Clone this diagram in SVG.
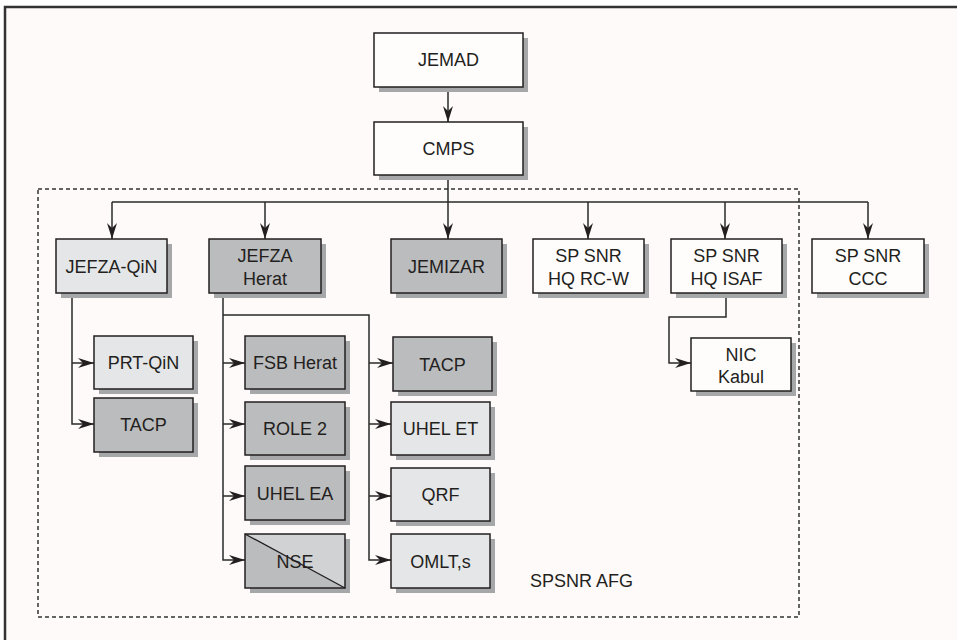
<svg xmlns="http://www.w3.org/2000/svg" width="957" height="640" viewBox="0 0 957 640">
<style>
text{font-family:"Liberation Sans",Arial,sans-serif;font-size:18px;fill:#231f20;text-anchor:middle}
.sh{fill:#a6a7a9}
.b{stroke:#231f20;stroke-width:1.5}
.w{fill:#fffdfc}
.l{fill:#e5e6e8}
.d{fill:#bbbcbe}
.c{fill:none;stroke:#2a2a2a;stroke-width:1.5}
.a{marker-end:url(#ah)}
</style>
<defs>
<marker id="ah" markerUnits="userSpaceOnUse" markerWidth="17" markerHeight="12" refX="16" refY="6" orient="auto">
<path d="M0,1 L16,6 L0,11 L5,6 Z" fill="#231f20"/>
</marker>
</defs>
<rect x="0" y="0" width="957" height="640" fill="#ffffff"/>
<rect x="5" y="7" width="960" height="640" fill="#fdfaf9" stroke="#333" stroke-width="2.5"/>
<rect id="spsnr-afg" x="38" y="189" width="761" height="428" fill="none" stroke="#333" stroke-width="1.5" stroke-dasharray="4,3"/>
<text x="530" y="587" style="text-anchor:start">SPSNR AFG</text>

<g id="connectors">
<path class="c a" d="M448,92 V122"/>
<path class="c a" d="M448,180 V239"/>
<path class="c" d="M112,202 H868"/>
<path class="c a" d="M112,202 V239"/>
<path class="c a" d="M265,202 V239"/>
<path class="c a" d="M588,202 V239"/>
<path class="c a" d="M725,202 V239"/>
<path class="c a" d="M868,202 V239"/>
<path class="c a" d="M72,293 V424 H94"/>
<path class="c a" d="M72,363 H94"/>
<path class="c a" d="M223,293 V560 H245"/>
<path class="c a" d="M223,363 H245"/>
<path class="c a" d="M223,424 H245"/>
<path class="c a" d="M223,496 H245"/>
<path class="c a" d="M223,315 H369 V560 H391"/>
<path class="c a" d="M369,363 H393"/>
<path class="c a" d="M369,424 H391"/>
<path class="c a" d="M369,496 H391"/>
<path class="c a" d="M726,293 V317 H669 V363 H691"/>
</g>

<g id="jemad"><rect class="sh" x="379" y="38" width="149" height="54"/><rect class="b w" x="374" y="33" width="149" height="54"/><text x="448.5" y="66">JEMAD</text></g>
<g id="cmps"><rect class="sh" x="379" y="127" width="149" height="53"/><rect class="b w" x="374" y="122" width="149" height="53"/><text x="448.5" y="155">CMPS</text></g>

<g id="jefza-qin"><rect class="sh" x="61" y="244" width="111" height="54"/><rect class="b l" x="56" y="239" width="111" height="54"/><text x="111.5" y="273">JEFZA-QiN</text></g>
<g id="jefza-herat"><rect class="sh" x="214" y="244" width="112" height="54"/><rect class="b d" x="209" y="239" width="112" height="54"/><text x="265" y="262">JEFZA</text><text x="265" y="285">Herat</text></g>
<g id="jemizar"><rect class="sh" x="396" y="244" width="111" height="54"/><rect class="b d" x="391" y="239" width="111" height="54"/><text x="446.5" y="273">JEMIZAR</text></g>
<g id="sp-snr-hq-rcw"><rect class="sh" x="538" y="244" width="111" height="54"/><rect class="b w" x="533" y="239" width="111" height="54"/><text x="588.5" y="262">SP SNR</text><text x="588.5" y="285">HQ RC-W</text></g>
<g id="sp-snr-hq-isaf"><rect class="sh" x="676" y="244" width="111" height="54"/><rect class="b w" x="671" y="239" width="111" height="54"/><text x="726.5" y="262">SP SNR</text><text x="726.5" y="285">HQ ISAF</text></g>
<g id="sp-snr-ccc"><rect class="sh" x="817" y="244" width="112" height="54"/><rect class="b w" x="812" y="239" width="112" height="54"/><text x="868" y="262">SP SNR</text><text x="868" y="285">CCC</text></g>

<g id="prt-qin"><rect class="sh" x="99" y="341" width="99" height="53"/><rect class="b l" x="94" y="336" width="99" height="53"/><text x="143.5" y="369">PRT-QiN</text></g>
<g id="tacp-qin"><rect class="sh" x="99" y="403" width="99" height="54"/><rect class="b d" x="94" y="398" width="99" height="54"/><text x="143.5" y="431">TACP</text></g>

<g id="fsb-herat"><rect class="sh" x="250" y="341" width="100" height="53"/><rect class="b d" x="245" y="336" width="100" height="53"/><text x="295" y="369">FSB Herat</text></g>
<g id="role2"><rect class="sh" x="250" y="407" width="100" height="53"/><rect class="b d" x="245" y="402" width="100" height="53"/><text x="295" y="435">ROLE 2</text></g>
<g id="uhel-ea"><rect class="sh" x="250" y="471" width="100" height="54"/><rect class="b d" x="245" y="466" width="100" height="54"/><text x="295" y="499.5">UHEL EA</text></g>
<g id="nse"><rect class="sh" x="250" y="539" width="100" height="54"/><rect class="d" x="245" y="534" width="100" height="54"/><path d="M245,534 L345,534 L345,588 Z" fill="#d1d2d4"/><text x="295" y="567.5">NSE</text><path d="M245,534 L345,588" stroke="#231f20" stroke-width="1.3"/><rect class="b" x="245" y="534" width="100" height="54" fill="none"/></g>

<g id="tacp-herat"><rect class="sh" x="398" y="342" width="99" height="54"/><rect class="b d" x="393" y="337" width="99" height="54"/><text x="442.5" y="370.5">TACP</text></g>
<g id="uhel-et"><rect class="sh" x="396" y="407" width="99" height="53"/><rect class="b l" x="391" y="402" width="99" height="53"/><text x="440.5" y="435">UHEL ET</text></g>
<g id="qrf"><rect class="sh" x="396" y="473" width="99" height="53"/><rect class="b l" x="391" y="468" width="99" height="53"/><text x="440.5" y="501">QRF</text></g>
<g id="omlt"><rect class="sh" x="396" y="539" width="99" height="54"/><rect class="b l" x="391" y="534" width="99" height="54"/><text x="440.5" y="567.5">OMLT,s</text></g>

<g id="nic-kabul"><rect class="sh" x="696" y="343" width="100" height="53"/><rect class="b w" x="691" y="338" width="100" height="53"/><text x="741" y="361">NIC</text><text x="741" y="383">Kabul</text></g>
</svg>
